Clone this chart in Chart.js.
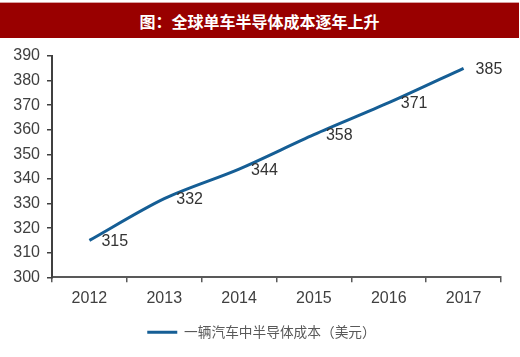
<!DOCTYPE html>
<html>
<head>
<meta charset="utf-8">
<script src="https://cdn.jsdelivr.net/npm/chart.js@4"></script>
<style>
  html, body { margin: 0; padding: 0; background: #ffffff; }
  #page { position: relative; width: 520px; height: 357px; overflow: hidden; background: #fff; }
  #title { position: absolute; left: 0; top: 2px; width: 519px; height: 36px; background: #990000;
           color: #ffffff; font-family: "Noto Sans CJK SC", sans-serif; font-weight: 700; font-size: 16px;
           line-height: 36px; text-align: center; border-top: 1px solid #d9a0a0; box-sizing: border-box; }
  #wrap { position: absolute; left: 0; top: 38px; width: 520px; height: 319px; }
</style>
</head>
<body>
<div id="page">
  <div id="title">图：全球单车半导体成本逐年上升</div>
  <div id="wrap"><canvas id="c"></canvas></div>
</div>
<script>
const categories = ["2012", "2013", "2014", "2015", "2016", "2017"];
const costValues = [315, 332, 344, 358, 371, 385];
const seriesLabel = "一辆汽车中半导体成本（美元）";
const yMin = 300, yMax = 390, yStep = 10;

const NUM_FONT = '"Liberation Sans", Arial, sans-serif';
const LINE_COLOR = "#155e95";

const dataLabels = {
  id: "dataLabels",
  afterDatasetsDraw(chart) {
    const ctx = chart.ctx;
    const meta = chart.getDatasetMeta(0);
    ctx.save();
    ctx.font = "16px " + NUM_FONT;
    ctx.fillStyle = "#333333";
    ctx.textAlign = "left";
    ctx.textBaseline = "middle";
    meta.data.forEach((pt, i) => {
      ctx.fillText(String(costValues[i]), pt.x + 12, pt.y + 1);
    });
    ctx.restore();
  }
};

const legendShift = {
  id: "legendShift",
  afterLayout(chart) {
    if (chart.legend) {
      chart.legend.left += 11;
      chart.legend.right += 11;
    }
  }
};

new Chart(document.getElementById("c"), {
  type: "line",
  data: {
    labels: categories,
    datasets: [{
      label: seriesLabel,
      data: costValues,
      borderColor: LINE_COLOR,
      backgroundColor: LINE_COLOR,
      borderWidth: 3,
      pointRadius: 0,
      tension: 0.3,
      fill: false
    }]
  },
  options: {
    responsive: true,
    maintainAspectRatio: false,
    animation: false,
    layout: { padding: { top: 18, right: 19, bottom: 8, left: 0 } },
    plugins: {
      tooltip: { enabled: false },
      legend: {
        position: "bottom",
        labels: {
          boxWidth: 30,
          boxHeight: 3,
          padding: 10,
          color: "#595959",
          font: { family: '"Noto Sans CJK SC", sans-serif', size: 13.7 },
          generateLabels(chart) {
            return chart.data.datasets.map((ds, i) => ({
              text: ds.label,
              fillStyle: LINE_COLOR,
              strokeStyle: LINE_COLOR,
              lineWidth: 0,
              fontColor: "#595959",
              datasetIndex: i,
              hidden: false
            }));
          }
        }
      }
    },
    scales: {
      x: {
        offset: true,
        afterFit(s) { s.height = 38; },
        grid: { display: true, offset: true, drawOnChartArea: false, drawTicks: true, tickLength: 5, color: "#595959", lineWidth: 1.5 },
        border: { display: true, color: "#595959", width: 2 },
        ticks: { color: "#404040", padding: 7, font: { family: NUM_FONT, size: 16 }, maxRotation: 0 }
      },
      y: {
        min: yMin,
        max: yMax,
        afterFit(s) { s.width = 52; },
        grid: { display: true, drawOnChartArea: false, drawTicks: true, tickLength: 5, color: "#404040", lineWidth: 1.5 },
        border: { display: true, color: "#404040", width: 2 },
        ticks: { stepSize: yStep, color: "#404040", padding: 7, font: { family: NUM_FONT, size: 16 } }
      }
    }
  },
  plugins: [dataLabels, legendShift]
});
</script>
</body>
</html>
